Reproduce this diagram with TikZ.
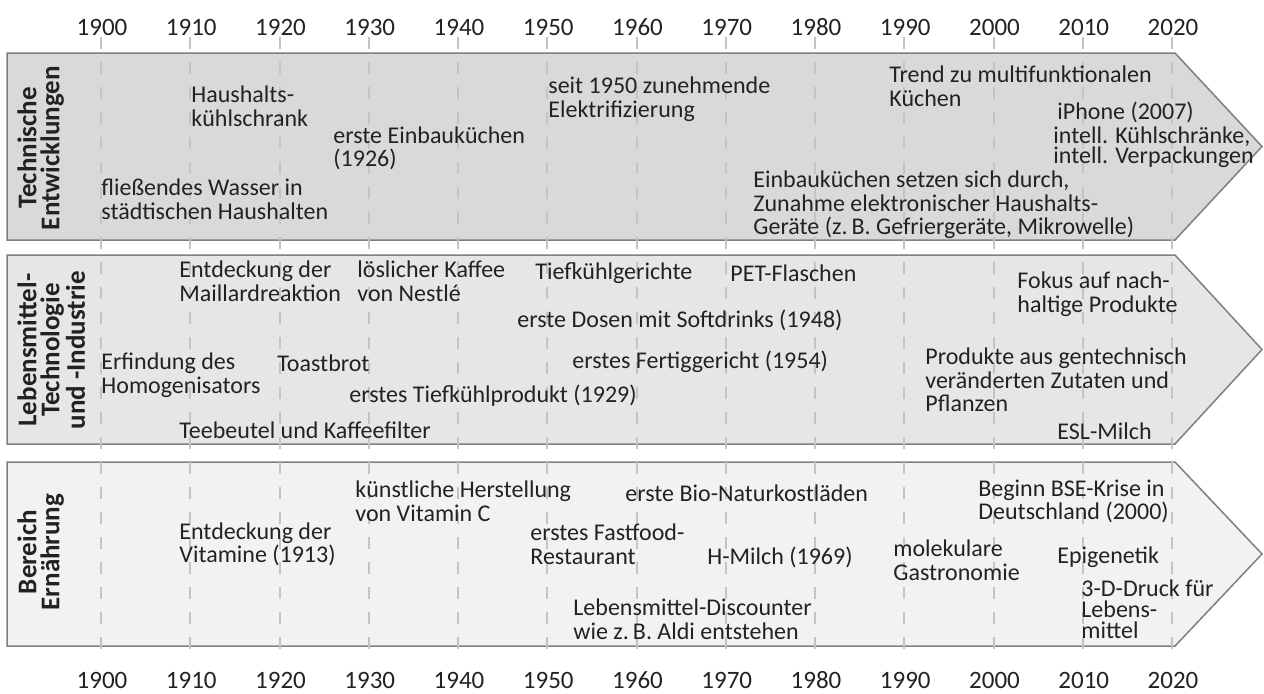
\documentclass[tikz,border=0pt]{standalone}
\usepackage{fontspec}
\setmainfont{Carlito}
\definecolor{bandA}{HTML}{D9D9D9}
\definecolor{bandB}{HTML}{E6E6E6}
\definecolor{bandC}{HTML}{F2F2F2}
\definecolor{bordc}{HTML}{7F7F7F}
\definecolor{gridc}{HTML}{C4C4C4}
\definecolor{tc}{HTML}{222222}
\begin{document}
\begin{tikzpicture}[x=0.5pt,y=-0.5pt,
  txt/.style={anchor=west,inner sep=0pt,align=left,font=\fontsize{12}{11.8}\selectfont,text=tc},
  tight/.style={font=\fontsize{12}{10}\selectfont},
  yr/.style={inner sep=0pt,font=\fontsize{12.5}{14}\selectfont,text=tc},
  band/.style={draw=bordc,line width=0.75pt,line join=miter},
  gridline/.style={draw=gridc,line width=1pt,dash pattern=on 6pt off 6.5pt},
  lab/.style={rotate=90,anchor=north,inner sep=0pt,align=center,font=\bfseries\fontsize{13.5}{11.5}\selectfont,text=tc}]
\useasboundingbox (0,0) rectangle (1264,693);
% bands
\draw[band,fill=bandA] (7,53) -- (1175,53) -- (1262,146.5) -- (1175,240) -- (7,240) -- cycle;
\draw[band,fill=bandB] (7,255) -- (1175,255) -- (1262,349.5) -- (1175,444) -- (7,444) -- cycle;
\draw[band,fill=bandC] (7,462) -- (1175,462) -- (1262,554) -- (1175,646) -- (7,646) -- cycle;
% grid and years
\foreach \i/\y in {0/1900,1/1910,2/1920,3/1930,4/1940,5/1950,6/1960,7/1970,8/1980,9/1990,10/2000,11/2010,12/2020} {
  \draw[gridline] (101+89.25*\i,37) -- (101+89.25*\i,657);
  \node[yr] (top\y) at (102+89.25*\i,27) {\y};
  \node[yr] (bot\y) at (102+89.25*\i,680) {\y};
}
% side labels
\node[lab] (labA) at (17,148) {Technische\\Entwicklungen};
\node[lab] (labB) at (17,350) {Lebensmittel-\\Technologie\\und -Industrie};
\node[lab] (labC) at (17,552) {Bereich\\Ernährung};
% band 1
\node[txt] (a1) at (191,106.5) {Haushalts-\\kühlschrank};
\node[txt] (a2) at (333,148.5) {erste Einbauküchen\\(1926)};
\node[txt] (a3) at (101,199) {fließendes Wasser in\\städtischen Haushalten};
\node[txt] (a4) at (548,99) {seit 1950 zunehmende\\Elektrifizierung};
\node[txt] (a5) at (753,205) {Einbauküchen setzen sich durch,\\Zunahme elektronischer Haushalts-\\Geräte (z.\,B. Gefriergeräte, Mikrowelle)};
\node[txt] (a6) at (889,86) {Trend zu multifunktionalen\\Küchen};
\node[txt] (a7) at (1057,112) {iPhone (2007)};
\node[txt,tight] (a8) at (1053,147) {intell. Kühlschränke,\\intell. Verpackungen};
% band 2
\node[txt] (b1) at (179,281.5) {Entdeckung der\\Maillardreaktion};
\node[txt] (b2) at (357,281.5) {löslicher Kaffee\\von Nestlé};
\node[txt] (b3) at (101,375) {Erfindung des\\Homogenisators};
\node[txt] (b4) at (277,363) {Toastbrot};
\node[txt] (b5) at (349,396) {erstes Tiefkühlprodukt (1929)};
\node[txt] (b6) at (179,430) {Teebeutel und Kaffeefilter};
\node[txt] (b7) at (535,273) {Tiefkühlgerichte};
\node[txt] (b8) at (730,273) {PET-Flaschen};
\node[txt] (b9) at (517,320) {erste Dosen mit Softdrinks (1948)};
\node[txt] (b10) at (572,362) {erstes Fertiggericht (1954)};
\node[txt] (b11) at (1017,294.5) {Fokus auf nach-\\haltige Produkte};
\node[txt] (b12) at (925,380) {Produkte aus gentechnisch\\veränderten Zutaten und\\Pflanzen};
\node[txt] (b13) at (1057,431) {ESL-Milch};
% band 3
\node[txt] (c1) at (179,544.5) {Entdeckung der\\Vitamine (1913)};
\node[txt] (c2) at (355,501.5) {künstliche Herstellung\\von Vitamin C};
\node[txt] (c3) at (530,544) {erstes Fastfood-\\Restaurant};
\node[txt] (c4) at (625,493) {erste Bio-Naturkostläden};
\node[txt] (c5) at (707,557) {H-Milch (1969)};
\node[txt] (c6) at (573,619.5) {Lebensmittel-Discounter\\wie z.\,B. Aldi entstehen};
\node[txt] (c7) at (978,501.5) {Beginn BSE-Krise in\\Deutschland (2000)};
\node[txt] (c8) at (893,560) {molekulare\\Gastronomie};
\node[txt] (c9) at (1057,557) {Epigenetik};
\node[txt,font=\fontsize{12}{10.5}\selectfont] (c10) at (1081,609) {3-D-Druck für\\Lebens-\\mittel};
\end{tikzpicture}
\end{document}
